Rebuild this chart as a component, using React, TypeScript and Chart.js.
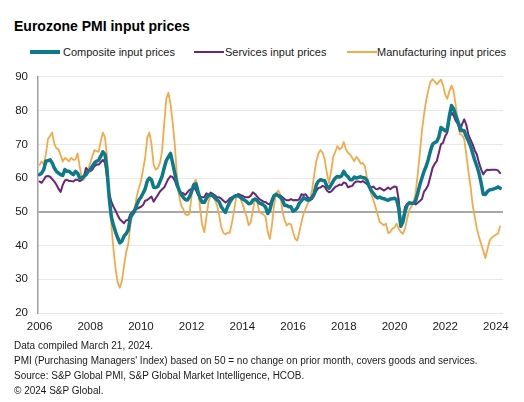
import React, { useEffect, useRef } from "react";
import { Chart, registerables } from "chart.js";

Chart.register(...registerables);

// Monthly series, January 2006 to March 2024
const START_YEAR = 2006;

const COMPOSITE = [
  61, 61.5, 62.5, 65, 65.2, 65.4, 64.5, 63, 62, 61.5, 61, 60.8,
  62.5, 62, 62, 61.5, 61, 62, 61.5, 60, 60, 60.5, 61, 62,
  62.5, 63.5, 64.5, 65, 65.3, 66.5, 67.8, 67, 62, 54, 48.5, 46,
  44, 42.3, 40.8, 41.3, 42.8, 43.5, 44.7, 48.4, 49.3, 50.2, 52, 53.5,
  54.3, 55.5, 56.8, 59.1, 60, 59.5, 57.3, 57.2, 57.5, 59, 60.5, 63,
  65.2, 66.3, 67.3, 64.5, 61.5, 58.5, 56.5, 55.2, 54.3, 53.6, 53.5, 54.5,
  56, 58, 58.3, 56, 54, 52.8, 52.8, 54, 55, 55, 54.7, 54.2,
  53.6, 53, 51.5, 50.6, 49.8, 51.5, 52.8, 53.8, 54.5, 54.8, 54.7, 54.4,
  53.8, 53.5, 53, 52.4, 52.5, 53.5, 53.8, 53.4, 52.6, 52.4, 52, 51.4,
  49.5, 50.5, 53, 54.8, 55.2, 54.8, 54.3, 53.5, 51.9, 51.9, 51.5, 51.5,
  50.2, 50.5, 51.2, 52.6, 53.3, 54.2, 53.8, 53.4, 53.8, 54.3, 55.5, 58,
  59.1, 59.5, 59.3, 59.2, 57.6, 57, 58, 59.1, 60, 60.5, 60.3, 60.7,
  62, 61, 60.4, 59.5, 59.5, 60.3, 60, 60.2, 60.4, 60.1, 60, 59.3,
  57.5, 56.3, 55.5, 54.6, 54.1, 54.4, 54, 53.9, 53.6, 53.4, 53.8, 53.9,
  54, 53.6, 51, 45.7, 47, 50, 52, 52.7, 52.5, 52.6, 53.3, 55.5,
  58, 60, 62, 63.5, 65.5, 68, 70, 70.5, 70.8, 72.2, 75, 74.5,
  74, 74.5, 78.5, 81.5, 80.5, 78.5, 76.8, 75, 74, 74, 72.3, 71,
  69.5, 67.4, 65.3, 63.5, 61.5, 58.6, 55.2, 55.1, 56, 56.5, 56.6, 56.8,
  57, 57.4, 57,
];

const SERVICES = [
  59, 58.6, 59.5, 60.5, 60.6, 60.4, 59.7, 59, 58, 56.8, 55.9, 58,
  59.3, 59.5, 59.1, 59.1, 59, 59.5, 59.5, 59.1, 59.4, 60.5, 63, 62.3,
  62, 62.5, 63.5, 64, 64, 64.7, 65.4, 64.5, 60, 55.5, 53, 51.5,
  50.3, 49, 47.8, 47.2, 46.6, 47.5, 47.6, 49.3, 50, 50.6, 50.9, 51.2,
  51.5, 52, 53.3, 53.5, 54, 54.5, 53, 54, 55, 56, 56.7, 57.2,
  58.5, 59.8, 60.6, 60.3, 59.3, 57.5, 56.5, 55.7, 55.5, 55, 55.8, 56.5,
  56.8, 57.2, 56.5, 55, 54.5, 54.3, 54.4, 55.5, 54.8, 55.7, 55.3, 54.9,
  54.3, 54.3, 53.9, 53.3, 52.8, 53.2, 54, 54.3, 54.3, 54.8, 55.3, 55,
  54.8, 54.4, 54.3, 54.3, 54.8, 55.8, 55.3, 54.5, 53.8, 53.4, 53, 52.9,
  52.4, 52.2, 53.8, 54.8, 55, 54.8, 54.8, 54.3, 53.8, 53.4, 53.4, 53.8,
  53.4, 53.5, 53.4, 53.8, 55.2, 55, 55.2, 54.3, 53.4, 53.8, 54.8, 56.2,
  57.1, 57.2, 57.7, 57.4, 56.3, 55.8, 56, 56.7, 57.4, 57.7, 58.1, 57.9,
  58.7, 58.5, 57.3, 57.5, 57.7, 58.6, 59, 59, 58.8, 59.1, 58.7, 58.2,
  57.7, 57.2, 57.5, 56.8, 56.7, 57.1, 56.7, 56.3, 56.7, 57.2, 56.7, 57.2,
  57.5, 57.3, 53.5, 47, 47.8, 51.5, 52.3, 52.5, 52.5, 52.5, 52.2, 52.7,
  53.2, 53.8, 56, 56.8, 58, 60.5, 63, 64.2, 65, 67.5, 70, 70.5,
  72.4, 73.5, 77.8, 79.5, 78.5, 77, 76, 74, 76, 77.4, 75.8, 72.8,
  71.4, 70, 68.2, 67, 64.5, 62.6, 61.1, 62, 62.5, 62.4, 62.5, 62.5,
  62.5, 62.3, 61.5,
];

const MANUFACTURING = [
  63.9, 64.9, 64, 67, 71.6, 72.5, 73.5, 70.2, 68.8, 68.5, 66.8, 64.9,
  66, 65.5, 65, 66, 65.4, 65.5, 67.3, 63.5, 60, 59.5, 61, 62.5,
  64.5, 66.5, 68.3, 68, 67.8, 71, 73.5, 72, 66, 55, 46, 39,
  33, 29, 27.5, 29.5, 34, 38, 40.5, 46, 49.5, 51, 54.5, 57,
  59, 62.5, 66, 72, 73.5, 70, 64, 62.5, 63, 64.5, 68, 76,
  83.5, 85.3, 82, 76.5, 70, 61, 55, 52, 50.8, 49.2, 49, 49.5,
  55, 58.5, 59.5, 57, 51, 46, 44, 48.5, 53, 55, 54.5, 53.5,
  52, 49, 45.5, 43.8, 43.3, 43.8, 43.8, 46.5, 50, 54, 55, 54,
  52.5, 50.5, 48.7, 46, 47, 50.5, 53.8, 53, 50, 49.5, 49.2, 48.5,
  44, 42, 46, 52, 55.5, 56.3, 55, 50, 47.5, 46, 46.5, 46.3,
  44, 42, 41.5, 44, 47, 49.5, 51, 52.5, 53.5, 56.5, 61, 65,
  67.3, 68.3, 67.5, 65.5, 61.5, 58.5, 62, 66.3, 67.8, 69.5, 68.5, 69,
  70.7, 68.5, 67.5, 67, 66, 65, 66.3, 65.5, 64.3, 64.5, 63.5, 60,
  57.5, 55.3, 53.5, 51.5, 49.3, 47, 46.5, 46, 46.5, 43.7, 44, 45,
  45.3, 46.5, 45, 44, 43.5, 45, 48, 50.5, 51.5, 53, 55.5, 61,
  67.5, 74, 79, 83, 86, 88.5, 89.3, 88.7, 87.8, 88.5, 89.2, 87.5,
  84.8, 83.5, 85.8, 87.4, 85.8, 81.5, 77, 73, 72.8, 71.5, 67, 62,
  57.5, 52, 48.5, 45, 42.5, 40.5, 38.5, 36.3, 38.8, 41.4, 42.3, 42.8,
  43.2, 43.6, 45.7,
];

const SERIES_NAMES = [
  "Composite input prices",
  "Services input prices",
  "Manufacturing input prices",
];
const SERIES_COLORS = ["#0b7a8b", "#6b2478", "#f4aa4a"];
const SERIES_WIDTHS = [3.5, 2, 1.8];

const YEAR_TICKS = [2006, 2008, 2010, 2012, 2014, 2016, 2018, 2020, 2022, 2024];
const Y_MIN = 20;
const Y_MAX = 90;
const Y_STEP = 10;
const NEUTRAL = 50;

const TITLE = "Eurozone PMI input prices";
const FOOTNOTES = [
  "Data compiled March 21, 2024.",
  "PMI (Purchasing Managers' Index) based on 50 = no change on prior month, covers goods and services.",
  "Source: S&P Global PMI, S&P Global Market Intelligence, HCOB.",
  "© 2024 S&P Global.",
];

const FONT = "'Liberation Sans', Arial, Helvetica, sans-serif";

const LEGEND_POS = [
  { line: 30, text: 63 },
  { line: 194, text: 225 },
  { line: 347, text: 377 },
];

export default function App() {
  const canvasRef = useRef<HTMLCanvasElement | null>(null);

  useEffect(() => {
    const canvas = canvasRef.current;
    if (!canvas) return;
    const toPoints = (arr: number[]) =>
      arr.map((v, i) => ({ x: START_YEAR + i / 12, y: v }));
    const seriesData = [COMPOSITE, SERVICES, MANUFACTURING];

    const chart = new Chart(canvas, {
      type: "line",
      data: {
        datasets: seriesData.map((arr, k) => ({
          label: SERIES_NAMES[k],
          data: toPoints(arr),
          borderColor: SERIES_COLORS[k],
          backgroundColor: SERIES_COLORS[k],
          borderWidth: SERIES_WIDTHS[k],
          pointRadius: 0,
          tension: 0,
          fill: false,
          borderJoinStyle: "round" as const,
          borderCapStyle: "round" as const,
        })),
      },
      options: {
        responsive: false,
        animation: false,
        layout: { padding: { left: 0, right: 21, top: 11, bottom: 0 } },
        plugins: {
          legend: { display: false },
          tooltip: { enabled: false },
        },
        scales: {
          x: {
            type: "linear",
            min: 2005.94,
            max: 2024.28,
            grid: { display: false, drawTicks: false },
            border: { display: false },
            ticks: {
              padding: 7,
              maxRotation: 0,
              autoSkip: false,
              color: "#1a1a1a",
              font: { family: FONT, size: 11.5 },
              callback: (v: any) => String(v),
            },
            afterBuildTicks: (scale: any) => {
              scale.ticks = YEAR_TICKS.map((v) => ({ value: v }));
            },
            afterFit: (scale: any) => {
              scale.height = 27;
            },
          },
          y: {
            min: Y_MIN,
            max: Y_MAX,
            ticks: {
              stepSize: Y_STEP,
              padding: 10,
              color: "#1a1a1a",
              font: { family: FONT, size: 11.5 },
            },
            grid: {
              drawTicks: false,
              color: (ctx: any) =>
                ctx.tick && ctx.tick.value === NEUTRAL ? "#a8a8a8" : "#e8e8e8",
              lineWidth: (ctx: any) =>
                ctx.tick && ctx.tick.value === NEUTRAL ? 2 : 1,
            },
            border: { display: true, color: "#a0a0a0", width: 1.5 },
            afterFit: (scale: any) => {
              scale.width = 38;
            },
          },
        },
      },
    });
    return () => chart.destroy();
  }, []);

  return (
    <div
      style={{
        position: "absolute",
        left: 0,
        top: 0,
        width: 524,
        height: 402,
        background: "#fff",
        fontFamily: FONT,
        color: "#000",
        overflow: "hidden",
      }}
    >
      <div
        style={{
          position: "absolute",
          left: 14,
          top: 17,
          fontSize: 14,
          lineHeight: "18px",
          fontWeight: "bold",
          whiteSpace: "nowrap",
        }}
      >
        {TITLE}
      </div>
      {SERIES_NAMES.map((name, k) => (
        <React.Fragment key={name}>
          <div
            style={{
              position: "absolute",
              left: LEGEND_POS[k].line,
              top: 52 - SERIES_WIDTHS[k] / 2,
              width: 30,
              height: SERIES_WIDTHS[k],
              background: SERIES_COLORS[k],
            }}
          />
          <div
            style={{
              position: "absolute",
              left: LEGEND_POS[k].text,
              top: 45,
              fontSize: 11,
              lineHeight: "14px",
              whiteSpace: "nowrap",
              color: "#1a1a1a",
            }}
          >
            {name}
          </div>
        </React.Fragment>
      ))}
      <canvas
        ref={canvasRef}
        width={524}
        height={280}
        style={{ position: "absolute", left: 0, top: 60, width: 524, height: 280 }}
      />
      <div
        style={{
          position: "absolute",
          left: 14,
          top: 338,
          fontSize: 10,
          lineHeight: "15px",
          color: "#1a1a1a",
          whiteSpace: "nowrap",
        }}
      >
        {FOOTNOTES.map((t) => (
          <div key={t}>{t}</div>
        ))}
      </div>
    </div>
  );
}
